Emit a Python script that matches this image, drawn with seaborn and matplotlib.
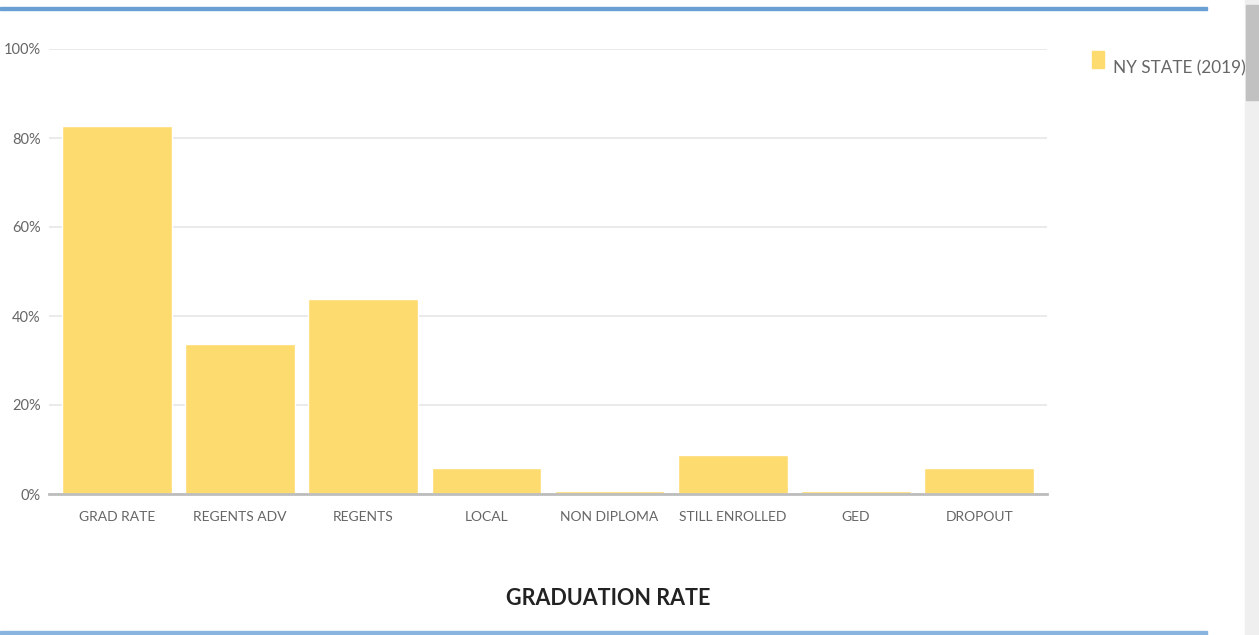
import matplotlib
matplotlib.use("Agg")
import matplotlib.pyplot as plt
import seaborn as sns
import pandas as pd
from matplotlib.patches import Rectangle
from matplotlib.ticker import FuncFormatter

categories = ["GRAD RATE", "REGENTS ADV", "REGENTS", "LOCAL", "NON DIPLOMA",
              "STILL ENROLLED", "GED", "DROPOUT"]
values = [82.7, 33.7, 43.8, 5.8, 0.7, 8.8, 0.6, 5.8]
series_name = "NY STATE (2019)"
title = "GRADUATION RATE"
yticks = [0, 20, 40, 60, 80, 100]

sns.set_theme(style="white")
plt.rcParams['font.family'] = ['Lato', 'DejaVu Sans']

W, H = 1259, 635
fig = plt.figure(figsize=(W / 100, H / 100), dpi=100)
ax = fig.add_axes([49 / W, 1 - 494 / H, (1047 - 49) / W, (494 - 49) / H])

df = pd.DataFrame({"category": categories, "value": values, "series": series_name})
bar_color = "#FEDB6F"
sns.barplot(data=df, x="category", y="value", color=bar_color, saturation=1,
            width=0.89, ax=ax, zorder=2)

ax.set_xlim(-0.55, 7.55)
ax.set_ylim(0, 100)
ax.set_yticks(yticks)
ax.yaxis.set_major_formatter(FuncFormatter(lambda v, p: f"{int(v)}%"))
ax.grid(axis="y", color="#e6e6e6", linewidth=1.2, zorder=0)
ax.set_axisbelow(True)
for s in ["top", "right", "left"]:
    ax.spines[s].set_visible(False)
ax.spines["bottom"].set_color("#bdbdbd")
ax.spines["bottom"].set_linewidth(2)
ax.set_xlabel("")
ax.set_ylabel("")
ax.tick_params(axis="x", length=0, pad=12, labelsize=10, labelcolor="#666666")
ax.tick_params(axis="y", length=0, pad=6, labelsize=10.5, labelcolor="#666666")

# Legend
fig.patches.append(Rectangle((1092 / W, 1 - 68 / H), 12 / W, 17 / H,
                             transform=fig.transFigure, color=bar_color,
                             figure=fig))
fig.text(1113 / W, 1 - 73 / H, series_name, fontsize=12.3, color="#666666",
         ha="left", va="baseline")

# Title
fig.text(608 / W, 1 - 605 / H, title, fontsize=15.5, fontweight="bold",
         color="#222222", ha="center", va="baseline")

# Page decorations: blue bands and scrollbar
fig.patches.append(Rectangle((0, 1 - 10 / H), 1207 / W, 3 / H,
                             transform=fig.transFigure, color="#6a9fd4", figure=fig))
fig.patches.append(Rectangle((0, 1 - 635 / H), 1207 / W, 4 / H,
                             transform=fig.transFigure, color="#8ab4e0", figure=fig))
fig.patches.append(Rectangle((1245 / W, 0), 14 / W, 1,
                             transform=fig.transFigure, color="#efefef", figure=fig))
fig.patches.append(Rectangle((1246 / W, 1 - 100 / H), 12 / W, 95 / H,
                             transform=fig.transFigure, color="#c1c1c1", figure=fig))

fig.savefig("out.png", dpi=100)
